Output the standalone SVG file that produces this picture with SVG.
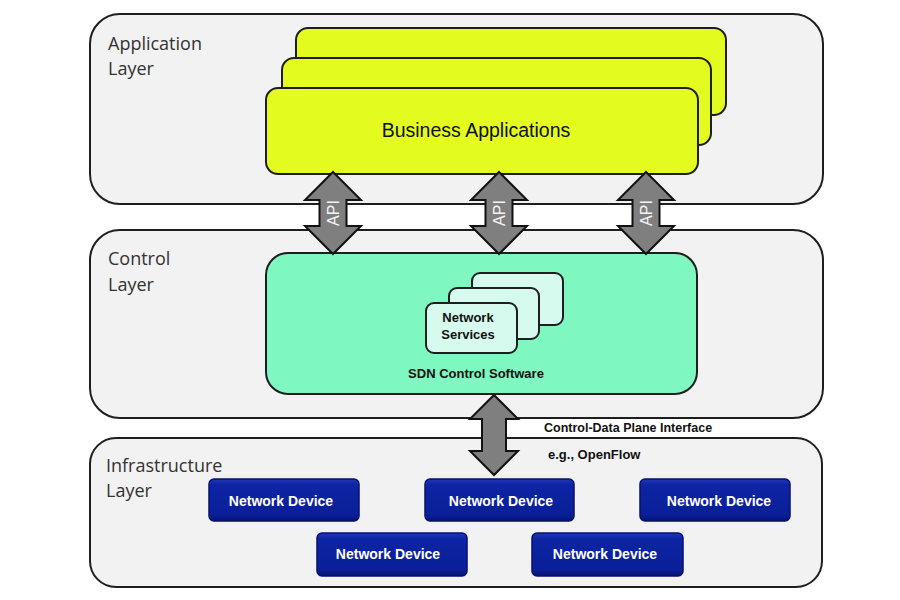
<svg xmlns="http://www.w3.org/2000/svg" width="900" height="600" viewBox="0 0 900 600">
<defs>
<linearGradient id="devGrad" x1="0" y1="0" x2="0" y2="1">
<stop offset="0" stop-color="#1f36b8"/>
<stop offset="0.15" stop-color="#0d24a4"/>
<stop offset="0.85" stop-color="#0a1f98"/>
<stop offset="1" stop-color="#061373"/>
</linearGradient>
<style>
.panel{fill:#f2f2f2;stroke:#1e1e1e;stroke-width:2}
.layerlbl{font-family:"Open Sans","Liberation Sans",sans-serif;font-size:18px;fill:#333}
.app{fill:#e3fb1f;stroke:#1e1e1e;stroke-width:2}
.ctl{fill:#7ef7c0;stroke:#1e1e1e;stroke-width:2}
.svc{fill:#d6faed;stroke:#1e1e1e;stroke-width:2}
.dev{fill:url(#devGrad);stroke:#08106a;stroke-width:1.5}
.devtxt{font-family:"Liberation Sans",Arial,sans-serif;font-weight:bold;font-size:14px;fill:#fff;text-anchor:middle}
.bold{font-family:"Liberation Sans",Arial,sans-serif;font-weight:bold;fill:#111}
.arrow{fill:#7f7f7f;stroke:#111;stroke-width:2;stroke-linejoin:miter}
.api{font-family:"Liberation Sans",Arial,sans-serif;font-size:16px;fill:#f4f4f4;text-anchor:middle}
</style>
</defs>
<rect width="900" height="600" fill="#fff"/>

<g id="application-layer">
<rect class="panel" x="90" y="14" width="733" height="190" rx="30"/>
<text class="layerlbl" x="108" y="50">Application</text>
<text class="layerlbl" x="108" y="75">Layer</text>
</g>
<g id="control-layer">
<rect class="panel" x="90" y="230" width="733" height="188" rx="30"/>
<text class="layerlbl" x="108" y="265">Control</text>
<text class="layerlbl" x="108" y="291">Layer</text>
</g>
<g id="infrastructure-layer">
<rect class="panel" x="90" y="438" width="732" height="149" rx="26"/>
<text class="layerlbl" x="106" y="472">Infrastructure</text>
<text class="layerlbl" x="106" y="497">Layer</text>
</g>

<g id="business-applications">
<rect class="app" x="296" y="28" width="430" height="87" rx="12"/>
<rect class="app" x="282" y="58" width="429" height="87" rx="12"/>
<rect class="app" x="266" y="88" width="432" height="86" rx="12"/>
<text x="476" y="137" font-family="Liberation Sans, Arial, sans-serif" font-size="19.5" fill="#111" text-anchor="middle">Business Applications</text>
</g>

<g id="sdn-control-software">
<rect class="ctl" x="266" y="253" width="431" height="141" rx="22"/>
<text class="bold" x="476" y="378" font-size="13" text-anchor="middle">SDN Control Software</text>
</g>

<g id="network-services">
<rect class="svc" x="472" y="273" width="91" height="52" rx="8"/>
<rect class="svc" x="449" y="288" width="90" height="51" rx="8"/>
<rect class="svc" x="426" y="303" width="91" height="50" rx="8"/>
<text class="bold" x="468" y="322" font-size="13" text-anchor="middle">Network</text>
<text class="bold" x="468" y="339" font-size="13" text-anchor="middle">Services</text>
</g>

<g id="connectors">
<g id="api-1">
<path class="arrow" d="M333,172 L361,200 L346.5,200 L346.5,226 L361,226 L333,254 L305,226 L319.5,226 L319.5,200 L305,200 Z"/>
<text class="api" transform="translate(339,213) rotate(-90)">API</text>
</g>
<g id="api-2">
<path class="arrow" d="M499,172 L527,200 L512.5,200 L512.5,226 L527,226 L499,254 L471,226 L485.5,226 L485.5,200 L471,200 Z"/>
<text class="api" transform="translate(505,213) rotate(-90)">API</text>
</g>
<g id="api-3">
<path class="arrow" d="M646,172 L674,200 L659.5,200 L659.5,226 L674,226 L646,254 L618,226 L632.5,226 L632.5,200 L618,200 Z"/>
<text class="api" transform="translate(652,213) rotate(-90)">API</text>
</g>
<g id="cdpi">
<path class="arrow" d="M494,395 L518,419 L506,419 L506,451 L518,451 L494,475 L470,451 L482,451 L482,419 L470,419 Z"/>
<text class="bold" x="544" y="432" font-size="12.5">Control-Data Plane Interface</text>
<text class="bold" x="548" y="459" font-size="13">e.g., OpenFlow</text>
</g>
</g>

<g id="network-device-1">
<rect class="dev" x="209" y="479" width="150" height="42" rx="5"/>
<text class="devtxt" x="281" y="506">Network Device</text>
</g>
<g id="network-device-2">
<rect class="dev" x="425" y="479" width="149" height="42" rx="5"/>
<text class="devtxt" x="501" y="506">Network Device</text>
</g>
<g id="network-device-3">
<rect class="dev" x="640" y="479" width="150" height="42" rx="5"/>
<text class="devtxt" x="719" y="506">Network Device</text>
</g>
<g id="network-device-4">
<rect class="dev" x="317" y="533" width="150" height="43" rx="5"/>
<text class="devtxt" x="388" y="559">Network Device</text>
</g>
<g id="network-device-5">
<rect class="dev" x="532" y="533" width="151" height="43" rx="5"/>
<text class="devtxt" x="605" y="559">Network Device</text>
</g>
</svg>
